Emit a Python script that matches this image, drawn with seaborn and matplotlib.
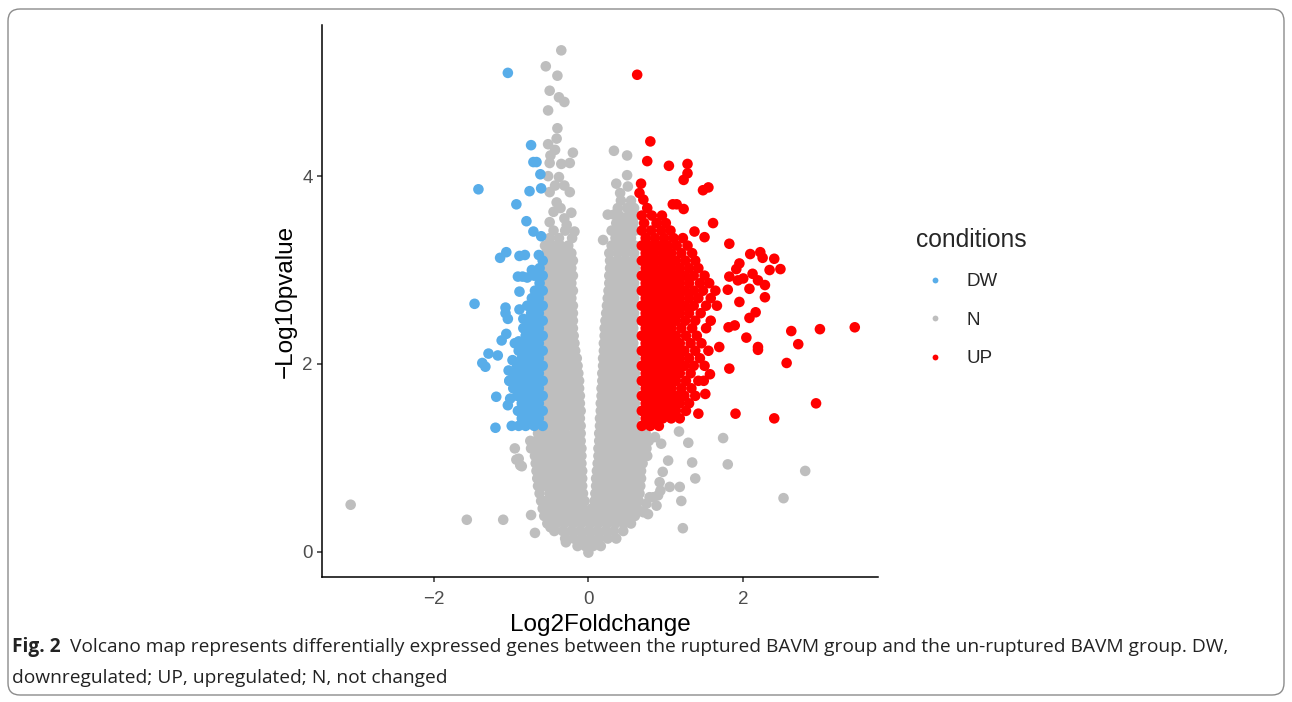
import matplotlib
matplotlib.use("Agg")
import matplotlib.pyplot as plt
import matplotlib.transforms as mtransforms
from matplotlib.patches import FancyBboxPatch
import pandas as pd
import seaborn as sns

# ---- data (log2 fold change, -log10 p) ----
# dense grey cloud, one list of x values per row of y
gray_row_y = [-0.01, 0.06, 0.14, 0.22, 0.30, 0.38, 0.46, 0.54, 0.62, 0.70, 0.78, 0.86,
              0.94, 1.02, 1.10, 1.18, 1.26,
              1.34, 1.42, 1.50, 1.58, 1.66, 1.74, 1.82, 1.90, 1.98, 2.06, 2.14, 2.22,
              2.30, 2.38, 2.46, 2.54, 2.62, 2.70, 2.78, 2.86, 2.94, 3.02, 3.10, 3.18,
              3.26, 3.34, 3.42, 3.50, 3.58, 3.66, 3.74]
gray_row_x = [
    [0.00],
    [-0.14, -0.04, 0.06, 0.16],
    [-0.30, -0.19, -0.08, 0.03, 0.14, 0.25, 0.36],
    [-0.44, -0.33, -0.22, -0.11, 0.00, 0.11, 0.22, 0.33, 0.45],
    [-0.53, -0.42, -0.31, -0.20, -0.09, 0.02, 0.13, 0.24, 0.35, 0.46, 0.55],
    [-0.57, -0.47, -0.36, -0.25, -0.14, -0.03, 0.08, 0.19, 0.30, 0.41, 0.52, 0.60],
    [-0.59, -0.51, -0.40, -0.29, -0.18, -0.07, 0.04, 0.15, 0.26, 0.37, 0.48, 0.59, 0.63],
    [-0.61, -0.55, -0.44, -0.33, -0.22, -0.11, -0.05, 0.08, 0.11, 0.22, 0.33, 0.44, 0.55, 0.65],
    [-0.63, -0.50, -0.39, -0.28, -0.17, -0.07, 0.09, 0.17, 0.28, 0.39, 0.50, 0.61, 0.66],
    [-0.65, -0.56, -0.45, -0.34, -0.23, -0.12, -0.08, 0.10, 0.12, 0.23, 0.34, 0.45, 0.56, 0.67],
    [-0.66, -0.62, -0.51, -0.40, -0.29, -0.18, -0.08, 0.10, 0.18, 0.29, 0.40, 0.51, 0.62, 0.68],
    [-0.67, -0.57, -0.46, -0.35, -0.24, -0.13, -0.08, 0.11, 0.13, 0.24, 0.35, 0.46, 0.57, 0.68],
    [-0.68, -0.63, -0.52, -0.41, -0.30, -0.19, -0.09, 0.12, 0.19, 0.30, 0.41, 0.52, 0.63, 0.70],
    [-0.69, -0.58, -0.47, -0.36, -0.25, -0.14, -0.09, 0.13, 0.14, 0.25, 0.36, 0.47, 0.58, 0.69, 0.76],
    [-0.68, -0.64, -0.53, -0.42, -0.31, -0.20, -0.09, 0.13, 0.20, 0.31, 0.42, 0.53, 0.64, 0.75],
    [-0.67, -0.58, -0.47, -0.36, -0.25, -0.14, -0.10, 0.14, 0.25, 0.36, 0.47, 0.58, 0.69, 0.78],
    [-0.65, -0.63, -0.52, -0.41, -0.30, -0.19, -0.10, 0.14, 0.19, 0.30, 0.41, 0.52, 0.63, 0.74],
    [-0.60, -0.49, -0.38, -0.27, -0.16, -0.10, 0.15, 0.26, 0.37, 0.48, 0.59],
    [-0.55, -0.44, -0.33, -0.22, -0.11, 0.15, 0.21, 0.32, 0.43, 0.54, 0.60],
    [-0.60, -0.49, -0.38, -0.27, -0.16, -0.10, 0.16, 0.26, 0.37, 0.48, 0.59],
    [-0.55, -0.44, -0.33, -0.22, -0.11, 0.16, 0.21, 0.32, 0.43, 0.54, 0.60],
    [-0.60, -0.49, -0.38, -0.27, -0.16, -0.11, 0.17, 0.27, 0.38, 0.49, 0.60],
    [-0.55, -0.44, -0.33, -0.22, -0.12, 0.17, 0.22, 0.33, 0.44, 0.55, 0.60],
    [-0.60, -0.49, -0.38, -0.27, -0.16, -0.12, 0.18, 0.28, 0.39, 0.50, 0.60],
    [-0.55, -0.44, -0.33, -0.22, -0.13, 0.18, 0.23, 0.34, 0.45, 0.56, 0.60],
    [-0.60, -0.49, -0.38, -0.27, -0.16, -0.14, 0.19, 0.29, 0.40, 0.51, 0.60],
    [-0.55, -0.44, -0.33, -0.22, -0.15, 0.19, 0.24, 0.35, 0.46, 0.57, 0.60],
    [-0.60, -0.49, -0.38, -0.27, -0.17, 0.20, 0.30, 0.41, 0.52, 0.60],
    [-0.55, -0.44, -0.33, -0.22, -0.18, 0.20, 0.25, 0.36, 0.47, 0.58],
    [-0.60, -0.49, -0.38, -0.28, -0.19, 0.21, 0.31, 0.42, 0.52, 0.60],
    [-0.55, -0.44, -0.33, -0.22, -0.20, 0.21, 0.26, 0.37, 0.48, 0.58],
    [-0.60, -0.49, -0.38, -0.28, -0.20, 0.22, 0.32, 0.42, 0.52, 0.60],
    [-0.55, -0.44, -0.33, -0.22, -0.20, 0.23, 0.27, 0.38, 0.49, 0.59],
    [-0.60, -0.49, -0.38, -0.28, -0.20, 0.24, 0.33, 0.43, 0.53, 0.60],
    [-0.55, -0.44, -0.33, -0.22, 0.25, 0.28, 0.39, 0.50, 0.59],
    [-0.60, -0.49, -0.38, -0.28, -0.20, 0.26, 0.35, 0.45, 0.55, 0.60],
    [-0.55, -0.44, -0.33, -0.22, 0.27, 0.30, 0.40, 0.50, 0.59],
    [-0.58, -0.49, -0.38, -0.28, -0.20, 0.27, 0.36, 0.46, 0.56, 0.60],
    [-0.55, -0.44, -0.33, -0.22, 0.28, 0.31, 0.41, 0.51, 0.60],
    [-0.58, -0.48, -0.38, -0.28, -0.20, 0.28, 0.37, 0.47, 0.57],
    [-0.54, -0.43, -0.32, -0.22, 0.27, 0.38, 0.48, 0.59],
    [-0.56, -0.46, -0.36, -0.26, 0.30, 0.40, 0.50, 0.60],
    [-0.50, -0.38, -0.21, 0.35, 0.45, 0.55],
    [-0.45, -0.30, 0.30, 0.41, 0.52, 0.60],
    [0.36, 0.47, 0.58],
    [0.40, 0.52, 0.60],
    [0.38, 0.50, 0.59],
    [0.42, 0.55],
]
# loose grey points
gray_x = [-0.35, -0.55, -0.40, -0.50, -0.38, -0.31, -0.52, -0.40, -0.41, -0.52, -0.43, -0.20,
          -0.49, -0.50, -0.35, -0.24, -0.52, -0.38, -0.43, -0.31, -0.24, -0.50, -0.41, -0.22,
          -0.31, -0.50, -0.18, -0.45, -0.36, -0.28,
          0.33, 0.50, 0.50, 0.36, 0.51, 0.41, 0.25, 0.33, 0.19, 0.34,
          -3.07, -1.57, -1.10, -0.74, -0.69, -0.49, -0.29, -0.95, -0.90, -0.88, -0.75,
          -0.93, -0.86, -0.74,
          1.17, 1.29, 1.74, 1.34, 1.80, 1.38, 2.80, 2.52, 1.20, 1.22, 0.94, 1.03, 0.96,
          0.92, 1.05, 1.18, 0.79, 0.90, 0.88, 0.77, 0.93, 0.84, 0.75, 0.71, 0.86]
gray_y = [5.34, 5.17, 5.07, 4.91, 4.84, 4.79, 4.70, 4.51, 4.40, 4.34, 4.28, 4.25,
          4.22, 4.14, 4.13, 4.14, 4.00, 3.99, 3.90, 3.90, 3.83, 3.83, 3.72, 3.61,
          3.55, 3.51, 3.41, 3.62, 3.66, 3.48,
          4.27, 4.22, 4.01, 3.92, 3.89, 3.82, 3.59, 3.59, 3.32, 3.42,
          0.50, 0.34, 0.34, 0.39, 0.20, 0.26, 0.10, 1.10, 0.99, 0.92, 1.18,
          0.98, 0.91, 1.10,
          1.28, 1.16, 1.21, 0.95, 0.93, 0.78, 0.86, 0.57, 0.54, 0.25, 1.15, 0.97, 0.85,
          0.74, 0.69, 0.69, 0.58, 0.60, 0.49, 0.40, 0.65, 0.58, 0.51, 0.42, 1.22]

# dense blue (DW) block
blue_row_y = [1.34, 1.42, 1.50, 1.58, 1.66, 1.74, 1.82, 1.90, 1.98, 2.06, 2.14, 2.22,
              2.30, 2.38, 2.46, 2.54, 2.62, 2.70, 2.78, 2.86, 2.94, 3.02, 3.10]
blue_row_x = [
    [-0.59, -0.70, -0.81, -0.90], [-0.64, -0.75, -0.86],
    [-0.59, -0.70, -0.81, -0.91], [-0.64, -0.75, -0.86],
    [-0.59, -0.70, -0.81, -0.92], [-0.64, -0.75, -0.86, -0.97],
    [-0.59, -0.70, -0.81, -0.92, -1.02], [-0.64, -0.75, -0.86, -0.97],
    [-0.59, -0.70, -0.81, -0.92], [-0.64, -0.75, -0.86],
    [-0.59, -0.70, -0.81, -0.90], [-0.64, -0.75, -0.86],
    [-0.59, -0.70, -0.81], [-0.64, -0.75, -0.84],
    [-0.59, -0.70, -0.80], [-0.64, -0.74],
    [-0.59, -0.70, -0.79], [-0.64, -0.73],
    [-0.59, -0.69], [-0.63], [-0.59, -0.70], [-0.63], [-0.59],
]
blue_x = [-1.04, -0.74, -0.71, -0.67, -0.62, -1.42, -0.76, -0.61, -0.93, -0.80, -0.71, -0.61,
          -1.14, -1.06, -0.89, -0.82, -0.64, -0.91, -0.85, -0.79, -0.73, -1.47, -1.07, -0.89,
          -1.07, -1.04, -0.89, -0.84, -1.06, -1.12, -0.95, -0.90, -1.29, -1.17, -1.37, -1.33,
          -0.98, -1.03, -1.02, -1.19, -1.01, -1.04, -1.20, -0.99]
blue_y = [5.10, 4.33, 4.15, 4.15, 4.02, 3.86, 3.84, 3.87, 3.70, 3.52, 3.41, 3.36,
          3.13, 3.19, 3.15, 3.16, 3.16, 2.93, 2.93, 2.92, 3.00, 2.64, 2.60, 2.77,
          2.54, 2.48, 2.58, 2.48, 2.32, 2.25, 2.22, 2.24, 2.11, 2.09, 2.01, 1.97,
          2.04, 1.93, 1.82, 1.65, 1.63, 1.56, 1.32, 1.34]

# dense red (UP) block
red_row_y = [1.34, 1.42, 1.50, 1.58, 1.66, 1.74, 1.82, 1.90, 1.98, 2.06, 2.14, 2.22,
             2.30, 2.38, 2.46, 2.54, 2.62, 2.70, 2.78, 2.86, 2.94, 3.02, 3.10, 3.18,
             3.26, 3.34, 3.42, 3.50, 3.58, 3.66]
red_row_x = [
    [0.69, 0.80, 0.91],
    [0.74, 0.85, 0.96, 1.07, 1.18],
    [0.69, 0.80, 0.91, 1.02, 1.13, 1.26],
    [0.74, 0.85, 0.96, 1.07, 1.18, 1.30],
    [0.69, 0.80, 0.91, 1.02, 1.13, 1.24, 1.38],
    [0.74, 0.85, 0.96, 1.07, 1.20, 1.33],
    [0.69, 0.80, 0.91, 1.02, 1.13, 1.26, 1.42],
    [0.74, 0.85, 0.96, 1.07, 1.18, 1.32],
    [0.69, 0.80, 0.91, 1.02, 1.13, 1.24, 1.36, 1.50],
    [0.74, 0.85, 0.96, 1.07, 1.18, 1.30, 1.44],
    [0.69, 0.80, 0.91, 1.02, 1.13, 1.24, 1.38, 1.55],
    [0.74, 0.85, 0.96, 1.07, 1.18, 1.32, 1.46],
    [0.69, 0.80, 0.91, 1.02, 1.13, 1.26, 1.40],
    [0.74, 0.85, 0.96, 1.07, 1.20, 1.34, 1.52],
    [0.69, 0.80, 0.91, 1.02, 1.13, 1.25, 1.38, 1.58],
    [0.74, 0.85, 0.96, 1.07, 1.18, 1.30, 1.45],
    [0.69, 0.80, 0.91, 1.02, 1.13, 1.24, 1.36, 1.52, 1.66],
    [0.74, 0.85, 0.96, 1.07, 1.18, 1.30, 1.42, 1.58],
    [0.69, 0.80, 0.91, 1.02, 1.13, 1.24, 1.36, 1.48, 1.64],
    [0.74, 0.85, 0.96, 1.07, 1.18, 1.30, 1.44, 1.56],
    [0.69, 0.80, 0.91, 1.02, 1.13, 1.24, 1.36, 1.50],
    [0.74, 0.85, 0.96, 1.07, 1.18, 1.30, 1.42],
    [0.69, 0.80, 0.91, 1.02, 1.13, 1.25, 1.38],
    [0.74, 0.85, 0.96, 1.07, 1.20, 1.34],
    [0.69, 0.80, 0.91, 1.02, 1.14, 1.28],
    [0.74, 0.86, 0.98, 1.10, 1.22],
    [0.69, 0.81, 0.94, 1.06],
    [0.72, 0.88, 1.00],
    [0.69, 0.82, 0.95],
    [0.76],
]
red_x = [0.63, 0.80, 0.76, 1.04, 1.28, 1.28, 1.23, 0.68, 0.66, 0.71, 1.48, 1.55, 1.09, 1.14,
         1.23, 1.61, 1.82, 1.37, 1.50, 2.09, 2.22, 2.25, 2.40, 2.48, 2.34, 1.95, 1.91, 2.12,
         2.19, 2.28, 1.82, 1.93, 2.00, 2.08, 2.28, 1.80, 1.95, 2.16, 2.08, 2.62, 2.99, 3.44,
         2.71, 1.89, 1.81, 2.04, 2.19, 2.19, 2.56, 1.82, 1.69, 2.94, 1.42, 1.90, 2.40, 1.51,
         1.57, 1.49]
red_y = [5.08, 4.37, 4.16, 4.11, 4.13, 4.03, 3.96, 3.92, 3.82, 3.75, 3.85, 3.88, 3.70, 3.70,
         3.65, 3.50, 3.28, 3.41, 3.35, 3.17, 3.19, 3.13, 3.12, 3.01, 3.00, 3.07, 3.01, 2.96,
         2.89, 2.84, 2.93, 2.89, 2.91, 2.80, 2.71, 2.79, 2.66, 2.55, 2.49, 2.35, 2.37, 2.39,
         2.21, 2.41, 2.39, 2.28, 2.18, 2.15, 2.01, 1.95, 2.18, 1.58, 1.47, 1.47, 1.42, 1.68,
         1.89, 1.82]

x_ticks = [-2, 0, 2]
y_ticks = [0, 2, 4]
cond_order = ["DW", "N", "UP"]
cond_colors = {"DW": "#58ADE9", "N": "#BEBEBE", "UP": "#FF0000"}


def expand(rows_y, rows_x, xs, ys, label):
    recs = []
    for yv, row in zip(rows_y, rows_x):
        for xv in row:
            recs.append((xv, yv, label))
    for xv, yv in zip(xs, ys):
        recs.append((xv, yv, label))
    return recs


records = (expand(gray_row_y, gray_row_x, gray_x, gray_y, "N")
           + expand(blue_row_y, blue_row_x, blue_x, blue_y, "DW")
           + expand(red_row_y, red_row_x, red_x, red_y, "UP"))
df = pd.DataFrame(records, columns=["log2fc", "logp", "conditions"])

sns.set_theme(style="ticks")
plt.rcParams["font.family"] = ["Liberation Sans", "DejaVu Sans"]
plt.rcParams["axes.unicode_minus"] = True

W, H = 1292, 702
fig = plt.figure(figsize=(W / 100, H / 100), dpi=100)
ax = fig.add_axes([322 / W, 1 - 577.3 / H, (878 - 322) / W, (577.3 - 25) / H])

sns.scatterplot(data=df, x="log2fc", y="logp", hue="conditions", hue_order=cond_order,
                palette=cond_colors, s=58, linewidth=0, alpha=1, ax=ax)

ax.set_xlim(-3.44, 3.74)
ax.set_ylim(-0.273, 5.61)
ax.set_xticks(x_ticks)
ax.set_yticks(y_ticks)
sns.despine(ax=ax)
for sp in ["left", "bottom"]:
    ax.spines[sp].set_linewidth(1.1)
    ax.spines[sp].set_color("black")
ax.tick_params(labelsize=13.5, labelcolor="#4D4D4D", color="#333333", length=3.6, width=1.1)
ax.tick_params(axis="x", pad=6.3)
ax.tick_params(axis="y", pad=3)
ax.set_xlabel("Log2Foldchange", fontsize=17.5, color="black", labelpad=4)
ax.set_ylabel("\u2212Log10pvalue", fontsize=17.5, color="black", labelpad=4)

sns.move_legend(ax, "upper left", bbox_to_anchor=(916 / W, 1 - 228 / H),
                bbox_transform=fig.transFigure, frameon=False, title="conditions",
                title_fontsize=17.7, fontsize=13.5, markerscale=0.55, labelspacing=1.14,
                handletextpad=0.72, handlelength=2.0, borderpad=0, borderaxespad=0,
                alignment="left")

# caption
cap_font = ["Open Sans", "Noto Sans", "DejaVu Sans"]
renderer = fig.canvas.get_renderer()
t1 = fig.text(12 / W, 1 - 652 / H, "Fig. 2", fontsize=13.8, fontweight="bold",
              family=cap_font, va="baseline", color="#222222")
bb = t1.get_window_extent(renderer)
fig.text((bb.x1 + 9) / W, 1 - 652 / H,
         "Volcano map represents differentially expressed genes between the ruptured BAVM "
         "group and the un-ruptured BAVM group. DW,",
         fontsize=13.8, family=cap_font, va="baseline", color="#222222")
fig.text(12 / W, 1 - 683 / H, "downregulated; UP, upregulated; N, not changed",
         fontsize=13.8, family=cap_font, va="baseline", color="#222222")

# rounded frame round the figure
frame = FancyBboxPatch((8, 7), 1276, 686, boxstyle="round,pad=0,rounding_size=12",
                       transform=mtransforms.IdentityTransform(), fill=False,
                       edgecolor="#8C8C8C", linewidth=1.0)
fig.patches.append(frame)

fig.savefig("out.png", dpi=100)
